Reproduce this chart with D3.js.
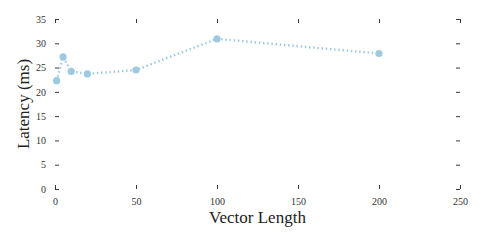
<!DOCTYPE html>
<html>
<head>
<meta charset="utf-8">
<script src="https://d3js.org/d3.v7.min.js"></script>
<style>
body { margin: 0; background: #fff; }
</style>
</head>
<body>
<script>
var vecLen = [1, 5, 10, 20, 50, 100, 200];
var latency = [22.3, 27.2, 24.2, 23.7, 24.5, 30.9, 27.9];
var xTicks = [0, 50, 100, 150, 200, 250];
var yTicks = [0, 5, 10, 15, 20, 25, 30, 35];

var W = 485, H = 242;
var margin = {top: 19, right: 25, bottom: 53, left: 55};
var w = W - margin.left - margin.right, h = H - margin.top - margin.bottom;
var serif = "'Liberation Serif', 'DejaVu Serif', serif";

var svg = d3.select("body").append("svg").attr("width", W).attr("height", H);
var g = svg.append("g").attr("transform", "translate(" + margin.left + "," + margin.top + ")");

var x = d3.scaleLinear().domain([0, 250]).range([0, w]);
var y = d3.scaleLinear().domain([0, 35]).range([h, 0]);

function styleAxis(sel) {
  sel.attr("font-family", serif);
  sel.select(".domain").remove();
  sel.selectAll(".tick line").attr("stroke", "#222").attr("stroke-width", 0.9);
  sel.selectAll(".tick text").attr("font-family", serif).attr("fill", "#333").style("font-size", "10px");
}

// ticks inward on all four sides, no spines
g.append("g").attr("transform", "translate(0," + h + ")")
  .call(d3.axisBottom(x).tickValues(xTicks).tickSizeInner(-4).tickPadding(9))
  .call(styleAxis);
g.append("g")
  .call(d3.axisTop(x).tickValues(xTicks).tickSizeInner(-4).tickFormat(""))
  .call(styleAxis);
g.append("g")
  .call(d3.axisLeft(y).tickValues(yTicks).tickSizeInner(-4).tickPadding(9))
  .call(styleAxis);
g.append("g").attr("transform", "translate(" + w + ",0)")
  .call(d3.axisRight(y).tickValues(yTicks).tickSizeInner(-4).tickFormat(""))
  .call(styleAxis);

var pts = vecLen.map(function(v, i) { return [v, latency[i]]; });

g.append("path")
  .datum(pts)
  .attr("fill", "none")
  .attr("stroke", "#9ecae1")
  .attr("stroke-width", 2.4)
  .attr("stroke-dasharray", "1.5,2.7")
  .attr("d", d3.line().x(function(d) { return x(d[0]); }).y(function(d) { return y(d[1]); }));

g.selectAll("circle").data(pts).enter().append("circle")
  .attr("cx", function(d) { return x(d[0]); })
  .attr("cy", function(d) { return y(d[1]); })
  .attr("r", 3.6)
  .attr("fill", "#9ecae1");

svg.append("text")
  .attr("x", margin.left + w / 2).attr("y", 223)
  .attr("text-anchor", "middle").attr("font-family", serif).attr("fill", "#222")
  .style("font-size", "17px")
  .text("Vector Length");

svg.append("text")
  .attr("transform", "translate(29," + (margin.top + h / 2) + ") rotate(-90)")
  .attr("text-anchor", "middle").attr("font-family", serif).attr("fill", "#222")
  .style("font-size", "17px")
  .text("Latency (ms)");
</script>
</body>
</html>
